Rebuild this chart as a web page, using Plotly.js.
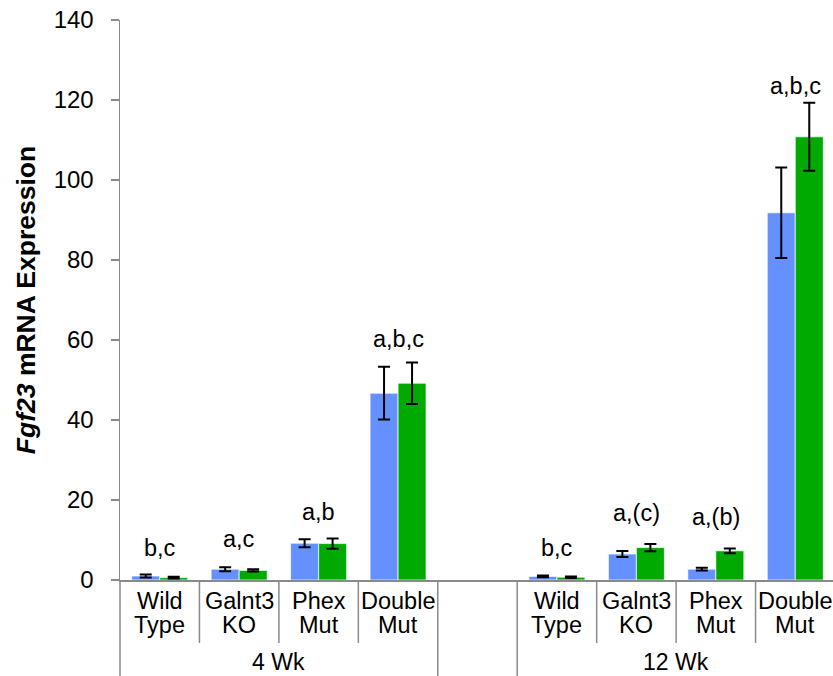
<!DOCTYPE html>
<html>
<head>
<meta charset="utf-8">
<script src="https://cdn.plot.ly/plotly-3.0.1.min.js"></script>
<style>html,body{margin:0;padding:0;background:#fff;}#chart{width:833px;height:676px;}</style>
</head>
<body>
<div id="chart"></div>
<script>
// ---- data ----
const groups = ["4 Wk", "12 Wk"];
const genotypes = ["Wild\nType", "Galnt3\nKO", "Phex\nMut", "Double\nMut"];
// series 1 (blue) and series 2 (green) means and errors, 4 Wk then 12 Wk
const blueVals  = [1.0, 2.7, 9.2, 46.7,   0.9, 6.5, 2.7, 91.8];
const blueErr   = [0.4, 0.5, 1.0, 6.6,    0.2, 0.75, 0.35, 11.3];
const greenVals = [0.6, 2.4, 9.1, 49.2,   0.7, 8.1, 7.3, 110.8];
const greenErr  = [0.2, 0.3, 1.3, 5.2,    0.2, 0.9, 0.6, 8.5];
const sigLabels = ["b,c", "a,c", "a,b", "a,b,c",   "b,c", "a,(c)", "a,(b)", "a,b,c"];
const sigLabelY = [5.4, 7.7, 14.6, 57.7,   5.4, 14.3, 13.3, 121.0];
const yTicks = [0, 20, 40, 60, 80, 100, 120, 140];

// ---- positions (category index, one empty slot between groups) ----
const nPer = genotypes.length;
const xPos = [];
groups.forEach((g, gi) => { for (let i = 0; i < nPer; i++) xPos.push(gi * (nPer + 1) + i); });

const FONT = "Liberation Sans, Arial, sans-serif";
const AX = "#8a8a8a";

const errStyle = {type: "data", visible: true, color: "#000", thickness: 2, width: 6};

const traces = [
  {type: "bar", x: xPos, y: blueVals, name: "blue",
   marker: {color: "#6491ff", line: {color: "rgba(255,255,255,0.7)", width: 1}},
   error_y: Object.assign({array: blueErr}, errStyle), hoverinfo: "none"},
  {type: "bar", x: xPos, y: greenVals, name: "green",
   marker: {color: "#00aa00", line: {color: "rgba(255,255,255,0.7)", width: 1}},
   error_y: Object.assign({array: greenErr}, errStyle), hoverinfo: "none"}
];

const annotations = [];
const shapes = [];
// significance letters
xPos.forEach((x, i) => {
  annotations.push({x: x, y: sigLabelY[i], xref: "x", yref: "y", text: sigLabels[i],
    showarrow: false, yanchor: "bottom", yshift: -5, font: {family: FONT, size: 23.5, color: "#000"}});
});
// category labels (two rows)
xPos.forEach((x, i) => {
  const parts = genotypes[i % nPer].split("\n");
  parts.forEach((p, r) => {
    annotations.push({x: x, y: r === 0 ? -0.0375 : -0.0795, xref: "x", yref: "paper", text: p,
      showarrow: false, yanchor: "middle", font: {family: FONT, size: 23.5, color: "#000"}});
  });
});
// group labels
groups.forEach((g, gi) => {
  const center = gi * (nPer + 1) + (nPer - 1) / 2;
  annotations.push({x: center, y: -0.147, xref: "x", yref: "paper", text: g,
    showarrow: false, yanchor: "middle", borderpad: 0, font: {family: FONT, size: 23, color: "#000"}});
});
// dividers
groups.forEach((g, gi) => {
  const start = gi * (nPer + 1);
  for (let i = 1; i < nPer; i++) {
    shapes.push({type: "line", xref: "x", yref: "paper", x0: start + i - 0.5, x1: start + i - 0.5,
      y0: 0, y1: -0.1125, line: {color: AX, width: 1.5}});
  }
  if (gi === 0) {
    shapes.push({type: "line", xref: "paper", yref: "paper", x0: 0, x1: 0, y0: 0, y1: -0.18, line: {color: AX, width: 1.5}});
    shapes.push({type: "line", xref: "x", yref: "paper", x0: start + nPer - 0.5, x1: start + nPer - 0.5, y0: 0, y1: -0.18, line: {color: AX, width: 1.5}});
  } else {
    shapes.push({type: "line", xref: "x", yref: "paper", x0: start - 0.5, x1: start - 0.5, y0: 0, y1: -0.18, line: {color: AX, width: 1.5}});
  }
});

const layout = {
  width: 833, height: 676,
  margin: {l: 120, r: 0, t: 20, b: 96, pad: 0},
  paper_bgcolor: "#fff", plot_bgcolor: "#fff",
  showlegend: false,
  barmode: "group", bargap: 0.295, bargroupgap: 0,
  font: {family: FONT, size: 23.5, color: "#000"},
  xaxis: {range: [-0.5, 8.475], showgrid: false, zeroline: false, showticklabels: false,
    ticks: "", showline: true, linecolor: AX, linewidth: 1.5, fixedrange: true},
  yaxis: {range: [0, 140], tickvals: yTicks, showgrid: false, zeroline: false,
    ticks: "outside", ticklen: 8, tickwidth: 1.5, tickcolor: AX,
    showline: true, linecolor: AX, linewidth: 1.5, ticklabelstandoff: 12,
    tickfont: {family: FONT, size: 24, color: "#000"},
    title: {text: "<b><i>Fgf23</i> mRNA Expression</b>", font: {family: FONT, size: 26.5, color: "#000"}, standoff: 10},
    fixedrange: true},
  annotations: annotations,
  shapes: shapes
};

Plotly.newPlot("chart", traces, layout, {displayModeBar: false, staticPlot: true});
</script>
</body>
</html>
